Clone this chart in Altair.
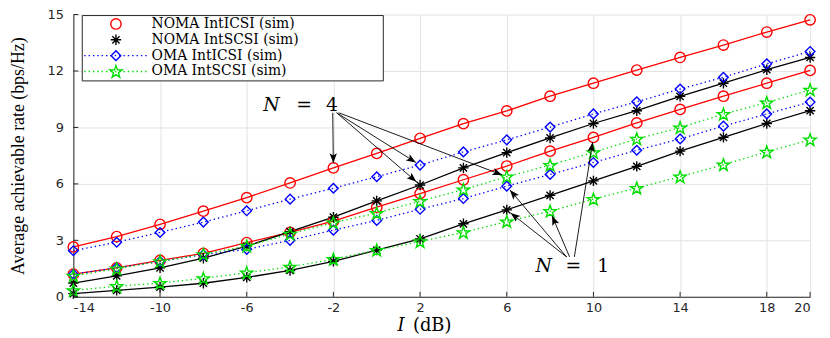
import math
import altair as alt
import pandas as pd

# ---------------- data ----------------
I_dB = [-14, -12, -10, -8, -6, -4, -2, 0, 2, 4, 6, 8, 10, 12, 14, 16, 18, 20]

noma_icsi_n4 = [2.65, 3.2, 3.85, 4.55, 5.27, 6.05, 6.85, 7.62, 8.42, 9.2, 9.88, 10.66, 11.35, 12.05, 12.72, 13.38, 14.07, 14.72]
noma_icsi_n1 = [1.2, 1.54, 1.93, 2.31, 2.88, 3.42, 4.02, 4.76, 5.48, 6.22, 6.95, 7.74, 8.47, 9.24, 9.96, 10.66, 11.35, 12.03]
noma_scsi_n4 = [0.73, 1.11, 1.54, 2.05, 2.69, 3.46, 4.23, 5.1, 5.94, 6.85, 7.66, 8.44, 9.21, 9.89, 10.65, 11.35, 12.07, 12.72]
noma_scsi_n1 = [0.17, 0.34, 0.51, 0.72, 1.03, 1.4, 1.88, 2.48, 3.08, 3.88, 4.62, 5.39, 6.16, 6.93, 7.74, 8.47, 9.21, 9.89]
oma_icsi_n4 = [2.45, 2.9, 3.42, 3.97, 4.57, 5.19, 5.77, 6.38, 7.0, 7.7, 8.34, 9.02, 9.72, 10.36, 11.04, 11.67, 12.38, 13.04]
oma_icsi_n1 = [1.2, 1.54, 1.88, 2.24, 2.52, 3.0, 3.54, 4.06, 4.65, 5.22, 5.88, 6.5, 7.14, 7.79, 8.39, 9.07, 9.72, 10.35]
oma_scsi_n4 = [1.11, 1.49, 1.88, 2.26, 2.7, 3.34, 3.94, 4.45, 5.08, 5.7, 6.38, 7.0, 7.68, 8.39, 8.99, 9.71, 10.32, 11.0]
oma_scsi_n1 = [0.34, 0.56, 0.73, 0.98, 1.28, 1.59, 2.0, 2.48, 2.94, 3.42, 4.0, 4.55, 5.19, 5.78, 6.38, 7.02, 7.7, 8.35]

schemes = ["NOMA IntICSI (sim)", "NOMA IntSCSI (sim)", "OMA IntICSI (sim)", "OMA IntSCSI (sim)"]
series_values = {
    ("NOMA IntICSI (sim)", "4"): noma_icsi_n4,
    ("NOMA IntICSI (sim)", "1"): noma_icsi_n1,
    ("NOMA IntSCSI (sim)", "4"): noma_scsi_n4,
    ("NOMA IntSCSI (sim)", "1"): noma_scsi_n1,
    ("OMA IntICSI (sim)", "4"): oma_icsi_n4,
    ("OMA IntICSI (sim)", "1"): oma_icsi_n1,
    ("OMA IntSCSI (sim)", "4"): oma_scsi_n4,
    ("OMA IntSCSI (sim)", "1"): oma_scsi_n1,
}

x_ticks = [-14, -10, -6, -2, 2, 6, 10, 14, 18, 20]
y_ticks = [0, 3, 6, 9, 12, 15]

y_title = "Average achievable rate (bps/Hz)"

# annotation arrows: origin (I, rate) -> target point on a curve
n4_origin_x = [-2.03, -1.85, -1.85, -1.75]
n4_origin_y = [9.78, 9.78, 9.78, 9.78]
n4_target_x = [-2, 2, 2, 6]
n4_target_y = [noma_icsi_n4[6], oma_icsi_n4[8], noma_scsi_n4[8], oma_scsi_n4[10]]

n1_origin_x = [8.76, 8.76, 8.9, 9.12]
n1_origin_y = [2.12, 2.12, 2.12, 2.12]
n1_target_x = [6, 6, 8, 10]
n1_target_y = [oma_icsi_n1[10], noma_scsi_n1[10], oma_scsi_n1[11], noma_icsi_n1[12]]

# ---------------- styles ----------------
W, H = 744, 285
SX, SY = W / 34.0, H / 15.0
AX_COLOR = "#262626"
GRID = "#e3e3e3"

ASTERISK = "M0,-1L0,1M-1,0L1,0M-0.7,-0.7L0.7,0.7M-0.7,0.7L0.7,-0.7"
HEAD = "M0,0L-0.38,1L0,0.78L0.38,1Z"
_pts = []
for k in range(10):
    r = 1.0 if k % 2 == 0 else 0.4
    a = math.radians(-90 + 36 * k)
    _pts.append("%.3f,%.3f" % (r * math.cos(a), r * math.sin(a) + 0.08))
STAR = "M" + "L".join(_pts) + "Z"

style = {
    "NOMA IntICSI (sim)": dict(color="#ff0000", shape="circle", size=110, dash=None),
    "NOMA IntSCSI (sim)": dict(color="#000000", shape=ASTERISK, size=110, dash=None),
    "OMA IntICSI (sim)": dict(color="#0000ff", shape="diamond", size=95, dash=[1.4, 3]),
    "OMA IntSCSI (sim)": dict(color="#00dd00", shape=STAR, size=170, dash=[1.4, 3]),
}

rows = []
for (sch, n), vals in series_values.items():
    for xv, yv in zip(I_dB, vals):
        rows.append({"I": xv, "rate": yv, "scheme": sch, "N": n, "series": sch + " N=" + n})
df = pd.DataFrame(rows)

x_enc = alt.X(
    "I:Q",
    scale=alt.Scale(domain=[-14, 20], nice=False, zero=False),
    axis=alt.Axis(values=x_ticks, title=None, labelExpr="'' + datum.value"),
)
y_enc = alt.Y(
    "rate:Q",
    scale=alt.Scale(domain=[0, 15], nice=False, zero=True),
    axis=alt.Axis(values=y_ticks, title=y_title, labelExpr="'' + datum.value"),
)

layers = []
for sch in schemes:
    st = style[sch]
    base = alt.Chart(df).transform_filter(alt.datum.scheme == sch)
    line_kw = dict(color=st["color"], strokeWidth=1.3)
    if st["dash"]:
        line_kw["strokeDash"] = st["dash"]
    layers.append(base.mark_line(**line_kw).encode(x=x_enc, y=y_enc, detail="series:N"))
for sch in schemes:
    st = style[sch]
    base = alt.Chart(df).transform_filter(alt.datum.scheme == sch)
    layers.append(
        base.mark_point(shape=st["shape"], size=st["size"], color=st["color"], filled=False,
                        strokeWidth=1.4, opacity=1).encode(x=x_enc, y=y_enc)
    )

# inward ticks
layers.append(alt.Chart(pd.DataFrame({"I": x_ticks})).mark_rule(color=AX_COLOR, strokeWidth=1)
              .encode(x="I:Q", y=alt.value(H), y2=alt.value(H - 5)))
layers.append(alt.Chart(pd.DataFrame({"rate": y_ticks})).mark_rule(color=AX_COLOR, strokeWidth=1)
              .encode(y="rate:Q", x=alt.value(0), x2=alt.value(5)))

# arrows
def arrow_frames(ox, oy, tx, ty, gap=5.0):
    lines, heads = [], []
    for a, b, c, d in zip(ox, oy, tx, ty):
        dxp, dyp = (c - a) * SX, (d - b) * SY
        L = math.hypot(dxp, dyp)
        tipx = c - gap * (c - a) / L
        tipy = d - gap * (d - b) / L
        ang = math.degrees(math.atan2(dxp, dyp)) % 360  # screen y is inverted
        lines.append({"I": a, "rate": b, "I2": tipx, "rate2": tipy})
        heads.append({"I": tipx, "rate": tipy, "ang": ang})
    return pd.DataFrame(lines), pd.DataFrame(heads)

for ox, oy, tx, ty in [(n4_origin_x, n4_origin_y, n4_target_x, n4_target_y),
                       (n1_origin_x, n1_origin_y, n1_target_x, n1_target_y)]:
    ldf, hdf = arrow_frames(ox, oy, tx, ty)
    layers.append(alt.Chart(ldf).mark_rule(color="black", strokeWidth=0.9)
                  .encode(x="I:Q", y="rate:Q", x2="I2:Q", y2="rate2:Q"))
    layers.append(alt.Chart(hdf).mark_point(shape=HEAD, size=380, filled=True, color="black",
                                            opacity=1, strokeWidth=0)
                  .encode(x="I:Q", y="rate:Q", angle=alt.Angle("ang:Q", scale=None)))

# annotation texts
def label(txt, xv, yv, italic=False, size=19):
    return alt.Chart(pd.DataFrame({"I": [xv], "rate": [yv]})).mark_text(
        text=txt, font="DejaVu Serif", fontSize=size, fontStyle="italic" if italic else "normal",
        color="black", align="center", baseline="middle").encode(x="I:Q", y="rate:Q")

layers += [label("N", -4.86, 10.18, True), label("=", -3.35, 10.18), label("4", -2.07, 10.18)]
layers += [label("N", 7.71, 1.62, True), label("=", 9.08, 1.62), label("1", 10.45, 1.62)]

# x-axis title
one = pd.DataFrame({"k": [0]})
layers.append(alt.Chart(one).mark_text(text="I", font="DejaVu Serif", fontSize=18, fontStyle="italic",
                                       align="center", baseline="middle", color="black")
              .encode(x=alt.value(331), y=alt.value(315)))
layers.append(alt.Chart(one).mark_text(text="(dB)", font="DejaVu Serif", fontSize=18,
                                       align="left", baseline="middle", color="black")
              .encode(x=alt.value(343), y=alt.value(315)))

# legend
layers.append(alt.Chart(one).mark_rect(fill="white", stroke=AX_COLOR, strokeWidth=1)
              .encode(x=alt.value(9), x2=alt.value(313), y=alt.value(1), y2=alt.value(67)))
for i, sch in enumerate(schemes):
    st = style[sch]
    yp = 9.5 + i * 16
    if st["dash"]:
        layers.append(alt.Chart(one).mark_rule(color=st["color"], strokeWidth=1.3, strokeDash=st["dash"])
                      .encode(x=alt.value(11), x2=alt.value(76), y=alt.value(yp)))
    layers.append(alt.Chart(one).mark_point(shape=st["shape"], size=st["size"], color=st["color"],
                                            filled=False, strokeWidth=1.4, opacity=1)
                  .encode(x=alt.value(43), y=alt.value(yp)))
    layers.append(alt.Chart(one).mark_text(text=sch, font="DejaVu Serif", fontSize=14, align="left",
                                           baseline="middle", color="black")
                  .encode(x=alt.value(79), y=alt.value(yp)))

chart = alt.layer(*layers).properties(
    width=W, height=H,
    padding={"left": 66, "top": 5, "right": 12, "bottom": 40},
    autosize=alt.AutoSizeParams(type="none"),
).configure_view(stroke=None).configure_axis(
    grid=True, gridColor=GRID, gridWidth=1,
    domainColor=AX_COLOR, domainWidth=1,
    tickSize=0,
    labelFont="DejaVu Sans", labelFontSize=13, labelColor=AX_COLOR,
    titleFont="Liberation Serif", titleFontSize=18, titleFontWeight="normal", titleColor="black",
).configure_axisX(labelPadding=5).configure_axisY(labelPadding=10, titlePadding=20)

chart.save("out.html", embed_options={"renderer": "svg", "actions": False})
